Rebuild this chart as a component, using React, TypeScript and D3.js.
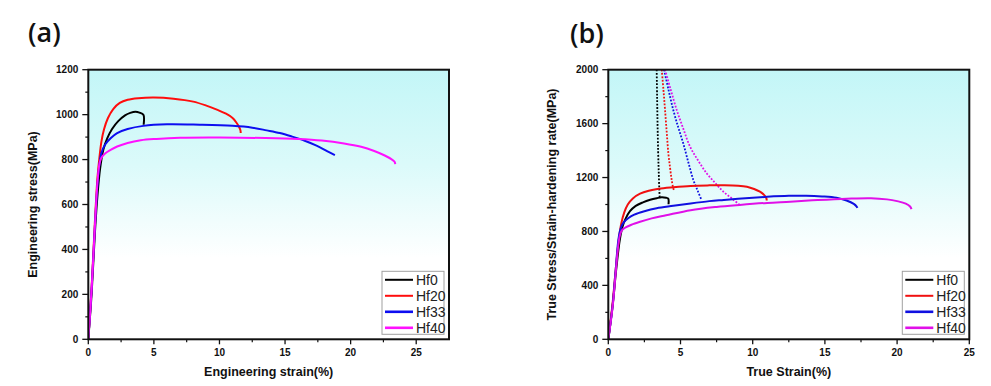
import React from "react";
import * as d3 from "d3";

type Pt = [number, number];

// ---------- Panel (a): engineering stress-strain ----------
const hf0A: Pt[] = [[0,0],[0.25,200],[0.5,470],[0.7,640],[0.9,760],[1.15,845],[1.45,895],[1.8,935],[2.3,972],[2.8,997],[3.2,1008],[3.6,1013],[3.9,1009],[4.2,999],[4.22,955]];
const hf20A: Pt[] = [[0,0],[0.25,230],[0.5,520],[0.7,720],[0.85,810],[1.0,880],[1.2,935],[1.5,985],[1.9,1025],[2.4,1052],[3.0,1066],[3.8,1073],[5.0,1076],[6.5,1071],[8.0,1058],[9.0,1040],[9.8,1022],[10.5,1004],[11.0,985],[11.3,964],[11.5,945],[11.6,930],[11.62,918]];
const hf33A: Pt[] = [[0,0],[0.25,220],[0.5,500],[0.7,690],[0.85,780],[1.0,830],[1.3,868],[1.7,895],[2.2,918],[3.0,936],[4.2,950],[6.0,957],[8.5,955],[11.0,950],[12.5,942],[13.6,930],[14.6,918],[15.5,903],[16.5,884],[17.4,862],[18.2,838],[18.8,820]];
const hf40A: Pt[] = [[0,0],[0.25,220],[0.5,500],[0.7,700],[0.85,780],[1.0,808],[1.3,828],[1.7,843],[2.2,858],[3.0,874],[4.0,886],[5.2,892],[7.0,897],[10.0,898],[13.5,896],[16.0,892],[17.8,885],[19.5,872],[20.8,857],[21.8,838],[22.6,818],[23.1,802],[23.35,790],[23.4,780]];

// ---------- Panel (b): true stress-strain + strain-hardening rate ----------
const hf0B: Pt[] = [[0,0],[0.3,250],[0.55,520],[0.8,740],[1.0,840],[1.2,895],[1.5,950],[1.9,990],[2.4,1016],[2.9,1035],[3.35,1047],[3.7,1054],[4.0,1050],[4.15,1044],[4.17,1002]];
const hf20B: Pt[] = [[0,0],[0.3,270],[0.55,560],[0.75,760],[0.9,860],[1.1,940],[1.35,1000],[1.7,1045],[2.2,1080],[2.8,1102],[3.5,1117],[4.5,1128],[5.7,1138],[7.0,1142],[8.0,1143],[9.0,1140],[9.6,1132],[10.1,1115],[10.5,1095],[10.8,1070],[10.95,1045],[10.97,1030]];
const hf33B: Pt[] = [[0,0],[0.3,250],[0.5,500],[0.7,740],[0.85,820],[1.05,865],[1.4,900],[1.8,925],[2.5,950],[3.35,972],[4.5,990],[5.7,1008],[7.0,1025],[8.0,1034],[9.5,1047],[11.0,1057],[12.5,1064],[13.7,1065],[14.8,1060],[15.8,1050],[16.5,1030],[17.0,1005],[17.2,985],[17.25,975]];
const hf40B: Pt[] = [[0,0],[0.3,240],[0.5,480],[0.65,660],[0.8,770],[0.95,810],[1.2,830],[1.6,850],[2.2,872],[3.0,897],[4.0,920],[5.7,958],[7.5,982],[9.1,997],[11,1012],[12.6,1021],[14.5,1033],[16.5,1043],[18.2,1047],[19.3,1038],[20.0,1025],[20.6,1007],[20.9,985],[21.0,965]];

const rate0B: Pt[] = [[3.35,2000],[3.38,1800],[3.41,1600],[3.45,1400],[3.49,1250],[3.53,1120],[3.56,1050]];
const rate20B: Pt[] = [[3.7,2000],[3.82,1850],[3.93,1700],[4.05,1530],[4.16,1380],[4.28,1270],[4.39,1182],[4.5,1121],[4.55,1105]];
const rate33B: Pt[] = [[3.86,2000],[4.17,1850],[4.5,1701],[4.85,1570],[5.19,1454],[5.55,1310],[5.89,1182],[6.2,1100],[6.47,1030]];
const rate40B: Pt[] = [[3.93,2000],[4.3,1860],[4.74,1701],[5.2,1560],[5.66,1429],[6.2,1330],[6.81,1232],[7.4,1160],[7.96,1096],[8.55,1045],[9.1,997]];

const seriesNames = ["Hf0", "Hf20", "Hf33", "Hf40"];
const colorsA = ["#000000", "#ff0d0d", "#0d0df0", "#ff10ff"];
const colorsB = ["#000000", "#f01010", "#1010e0", "#e010e8"];

const xTicksA = [0, 5, 10, 15, 20, 25];
const yTicksA = [0, 200, 400, 600, 800, 1000, 1200];
const xTicksB = [0, 5, 10, 15, 20, 25];
const yTicksB = [0, 400, 800, 1200, 1600, 2000];

const FONT = "'Liberation Sans', Arial, sans-serif";
const LABEL_FONT = "'Open Sans', 'Noto Sans', sans-serif";

interface PanelProps {
  id: string;
  label: string;
  labelX: number;
  labelY: number;
  left: number; top: number; right: number; bottom: number;
  xMax: number; yMax: number;
  xTicks: number[]; yTicks: number[];
  xMinorStep: number; yMinorStep: number;
  xTitle: string; yTitle: string; yTitleX: number;
  solid: Pt[][]; dotted?: Pt[][];
  colors: string[];
}

function Panel(p: PanelProps) {
  const x = d3.scaleLinear().domain([0, p.xMax]).range([p.left, p.right]);
  const y = d3.scaleLinear().domain([0, p.yMax]).range([p.bottom, p.top]);
  const line = d3.line<Pt>().x(d => x(d[0])).y(d => y(d[1])).curve(d3.curveCatmullRom.alpha(0.5));
  const xMinor = d3.range(p.xMinorStep, p.xMax + 1e-6, p.xMinorStep * 2).filter(v => x(v) < p.right - 1);
  const yMinor = d3.range(p.yMinorStep, p.yMax, p.yMinorStep * 2);
  const cx = (p.left + p.right) / 2;
  const cy = (p.top + p.bottom) / 2;
  const lgL = p.right - 67, lgT = p.bottom - 68, lgW = 62, lgH = 63;
  return (
    <g>
      <defs>
        <linearGradient id={p.id + "grad"} x1="0" y1="0" x2="0" y2="1">
          <stop offset="0" stopColor="#c3f6f7" />
          <stop offset="0.35" stopColor="#dbfafa" />
          <stop offset="0.7" stopColor="#ffffff" />
          <stop offset="1" stopColor="#ffffff" />
        </linearGradient>
        <clipPath id={p.id + "clip"}>
          <rect x={p.left} y={p.top} width={p.right - p.left} height={p.bottom - p.top} />
        </clipPath>
      </defs>
      <text x={p.labelX} y={p.labelY} fontFamily={LABEL_FONT} fontSize={27} fontWeight={600} fill="#111">{p.label}</text>
      <rect x={p.left} y={p.top} width={p.right - p.left} height={p.bottom - p.top} fill={`url(#${p.id}grad)`} />
      <g clipPath={`url(#${p.id}clip)`}>
        {(p.dotted || []).map((d, i) => (
          <path key={"d" + i} d={line(d) || ""} fill="none" stroke={p.colors[i]} strokeWidth={1.8} strokeDasharray="1.8,1.6" />
        ))}
        {p.solid.map((d, i) => (
          <path key={"s" + i} d={line(d) || ""} fill="none" stroke={p.colors[i]} strokeWidth={2} strokeLinejoin="round" />
        ))}
      </g>
      {/* legend */}
      <rect x={lgL} y={lgT} width={lgW} height={lgH} fill="#fff" stroke="#a0a0a0" strokeWidth={1} />
      {seriesNames.map((n, i) => {
        const yy = lgT + 8.5 + i * 16;
        return (
          <g key={n}>
            <line x1={lgL + 3} x2={lgL + 31} y1={yy} y2={yy} stroke={p.colors[i]} strokeWidth={i >= 2 ? 2.6 : 2} />
            <text x={lgL + 34} y={yy} dy="0.35em" fontFamily={FONT} fontSize={14} fill="#222">{n}</text>
          </g>
        );
      })}
      {/* frame */}
      <rect x={p.left} y={p.top} width={p.right - p.left} height={p.bottom - p.top} fill="none" stroke="#111" strokeWidth={2} />
      {/* x ticks */}
      {p.xTicks.map(t => (
        <g key={"xt" + t}>
          <line x1={x(t)} x2={x(t)} y1={p.bottom} y2={p.bottom + 5} stroke="#111" strokeWidth={1.3} />
          <text x={x(t)} y={p.bottom + 17} textAnchor="middle" fontFamily={FONT} fontSize={10} fontWeight="bold" fill="#111">{t}</text>
        </g>
      ))}
      {xMinor.map(t => (
        <line key={"xm" + t} x1={x(t)} x2={x(t)} y1={p.bottom} y2={p.bottom + 3} stroke="#111" strokeWidth={1.2} />
      ))}
      {/* y ticks */}
      {p.yTicks.map(t => (
        <g key={"yt" + t}>
          <line x1={p.left - 6} x2={p.left} y1={y(t)} y2={y(t)} stroke="#111" strokeWidth={1.3} />
          <text x={p.left - 10} y={y(t)} dy="0.35em" textAnchor="end" fontFamily={FONT} fontSize={10} fontWeight="bold" fill="#111">{t}</text>
        </g>
      ))}
      {yMinor.map(t => (
        <line key={"ym" + t} x1={p.left - 3} x2={p.left} y1={y(t)} y2={y(t)} stroke="#111" strokeWidth={1.2} />
      ))}
      {/* titles */}
      <text x={cx} y={p.bottom + 37} textAnchor="middle" fontFamily={FONT} fontSize={12.5} fontWeight="bold" fill="#111">{p.xTitle}</text>
      <text transform={`translate(${p.yTitleX},${cy}) rotate(-90)`} textAnchor="middle" dy="0.35em" fontFamily={FONT} fontSize={12.5} fontWeight="bold" fill="#111">{p.yTitle}</text>
    </g>
  );
}

export default function App() {
  return (
    <svg width={991} height={386} style={{ position: "absolute", left: 0, top: 0, background: "#fff" }}>
      <rect x={0} y={0} width={991} height={386} fill="#fff" />
      <Panel
        id="a" label="(a)" labelX={28} labelY={42}
        left={88.3} top={69.7} right={449} bottom={339.3}
        xMax={27.5} yMax={1200}
        xTicks={xTicksA} yTicks={yTicksA}
        xMinorStep={2.5} yMinorStep={100}
        xTitle="Engineering strain(%)" yTitle="Engineering stress(MPa)" yTitleX={33}
        solid={[hf0A, hf20A, hf33A, hf40A]}
        colors={colorsA}
      />
      <Panel
        id="b" label="(b)" labelX={570} labelY={43}
        left={608.3} top={69.7} right={969.3} bottom={339.3}
        xMax={25} yMax={2000}
        xTicks={xTicksB} yTicks={yTicksB}
        xMinorStep={2.5} yMinorStep={200}
        xTitle="True Strain(%)" yTitle="True Stress/Strain-hardening rate(MPa)" yTitleX={552}
        solid={[hf0B, hf20B, hf33B, hf40B]}
        dotted={[rate0B, rate20B, rate33B, rate40B]}
        colors={colorsB}
      />
    </svg>
  );
}
